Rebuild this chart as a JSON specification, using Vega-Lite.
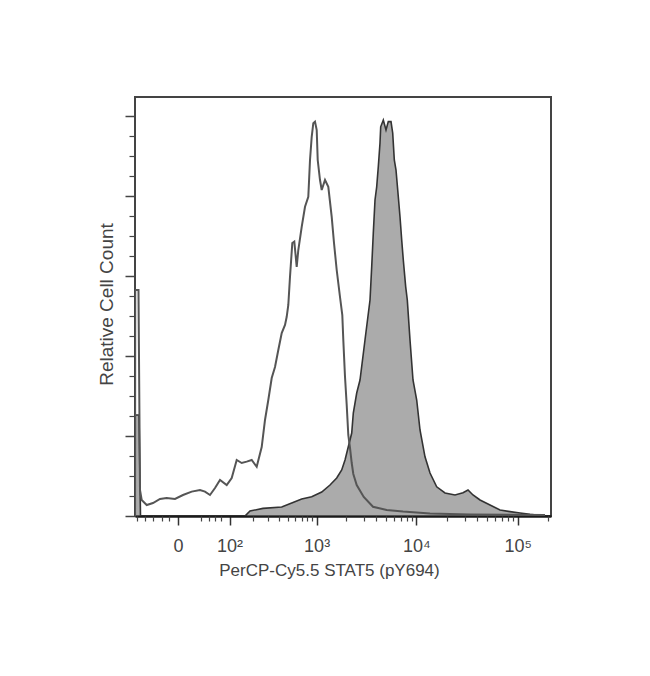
{
  "$schema": "https://vega.github.io/schema/vega-lite/v6.json",
  "width": 416,
  "height": 419,
  "autosize": {"type": "none"},
  "padding": {"left": 135, "top": 97, "right": 99, "bottom": 160},
  "background": "white",
  "config": {"view": {"stroke": "#444444", "strokeWidth": 2}, "font": "Liberation Sans"},
  "datasets": {
    "stained": [
      {"intensity": -73.8, "count": 25.25},
      {"intensity": -64.0, "count": 25.25},
      {"intensity": -60.4, "count": 0},
      {"intensity": 160.8, "count": 0},
      {"intensity": 185.5, "count": 1.25},
      {"intensity": 264.6, "count": 1.9},
      {"intensity": 428.4, "count": 2.25},
      {"intensity": 548.9, "count": 3.25},
      {"intensity": 700.2, "count": 4.25},
      {"intensity": 890, "count": 4.8},
      {"intensity": 1128, "count": 6},
      {"intensity": 1371, "count": 7.75},
      {"intensity": 1604, "count": 9.5},
      {"intensity": 1802, "count": 11.5},
      {"intensity": 1946, "count": 14},
      {"intensity": 2100, "count": 17.3},
      {"intensity": 2273, "count": 20.75},
      {"intensity": 2358, "count": 25.75},
      {"intensity": 2551, "count": 30.75},
      {"intensity": 2753, "count": 34},
      {"intensity": 3088, "count": 44},
      {"intensity": 3466, "count": 54},
      {"intensity": 3603, "count": 62.3},
      {"intensity": 3738, "count": 70.75},
      {"intensity": 3887, "count": 79},
      {"intensity": 4041, "count": 82.3},
      {"intensity": 4192, "count": 87.3},
      {"intensity": 4359, "count": 93.25},
      {"intensity": 4430, "count": 97.3},
      {"intensity": 4702, "count": 99},
      {"intensity": 5002, "count": 96.5},
      {"intensity": 5272, "count": 98.6},
      {"intensity": 5608, "count": 98.6},
      {"intensity": 5830, "count": 95.75},
      {"intensity": 6048, "count": 89},
      {"intensity": 6287, "count": 86.5},
      {"intensity": 6626, "count": 79.8},
      {"intensity": 6888, "count": 74.8},
      {"intensity": 7161, "count": 69},
      {"intensity": 7428, "count": 64},
      {"intensity": 7846, "count": 57.3},
      {"intensity": 8138, "count": 54},
      {"intensity": 8655, "count": 44},
      {"intensity": 9267, "count": 34},
      {"intensity": 10084, "count": 29},
      {"intensity": 10871, "count": 21.5},
      {"intensity": 12182, "count": 14.8},
      {"intensity": 13653, "count": 10.75},
      {"intensity": 15899, "count": 7.3},
      {"intensity": 19206, "count": 5.75},
      {"intensity": 24115, "count": 5.25},
      {"intensity": 28922, "count": 5.8},
      {"intensity": 32400, "count": 6.5},
      {"intensity": 36300, "count": 5.25},
      {"intensity": 42560, "count": 4},
      {"intensity": 53410, "count": 2.75},
      {"intensity": 67050, "count": 1.5},
      {"intensity": 84140, "count": 1.1},
      {"intensity": 105600, "count": 0.75},
      {"intensity": 132440, "count": 0.4},
      {"intensity": 186200, "count": 0}
    ],
    "control": [
      {"intensity": -74.3, "count": 0},
      {"intensity": -73.8, "count": 56.5},
      {"intensity": -65.3, "count": 56.5},
      {"intensity": -61.6, "count": 6.5},
      {"intensity": -57.6, "count": 4},
      {"intensity": -46.5, "count": 2.75},
      {"intensity": -34.4, "count": 3.25},
      {"intensity": -22.7, "count": 4.25},
      {"intensity": -13.2, "count": 4.5},
      {"intensity": -3.2, "count": 4.25},
      {"intensity": 5.4, "count": 5.25},
      {"intensity": 16.4, "count": 6.1},
      {"intensity": 29.1, "count": 6.5},
      {"intensity": 38, "count": 6.1},
      {"intensity": 48, "count": 5.25},
      {"intensity": 59.2, "count": 7},
      {"intensity": 71.7, "count": 9},
      {"intensity": 90.9, "count": 7.75},
      {"intensity": 107.2, "count": 9.5},
      {"intensity": 125.5, "count": 14},
      {"intensity": 146, "count": 13.25},
      {"intensity": 168.9, "count": 13.6},
      {"intensity": 194.6, "count": 14},
      {"intensity": 223.4, "count": 12.3},
      {"intensity": 255.6, "count": 17.25},
      {"intensity": 279, "count": 24},
      {"intensity": 304.2, "count": 29},
      {"intensity": 332.3, "count": 34.5},
      {"intensity": 361.6, "count": 37.25},
      {"intensity": 393.2, "count": 41.5},
      {"intensity": 428.4, "count": 45.75},
      {"intensity": 465.2, "count": 47.75},
      {"intensity": 485.2, "count": 49.8},
      {"intensity": 504.8, "count": 52.75},
      {"intensity": 526.4, "count": 59.8},
      {"intensity": 557.1, "count": 68.25},
      {"intensity": 585, "count": 68.6},
      {"intensity": 620.2, "count": 62.3},
      {"intensity": 644.8, "count": 66.5},
      {"intensity": 700.2, "count": 72.3},
      {"intensity": 758.2, "count": 77.3},
      {"intensity": 820.6, "count": 79.8},
      {"intensity": 854.6, "count": 89},
      {"intensity": 890, "count": 94.8},
      {"intensity": 924.6, "count": 98.2},
      {"intensity": 962.7, "count": 98.6},
      {"intensity": 1002.4, "count": 96.5},
      {"intensity": 1026.5, "count": 89},
      {"intensity": 1083.7, "count": 84},
      {"intensity": 1128.2, "count": 81.5},
      {"intensity": 1219.4, "count": 84},
      {"intensity": 1317.7, "count": 82.3},
      {"intensity": 1427, "count": 74.8},
      {"intensity": 1505.8, "count": 68.25},
      {"intensity": 1603.8, "count": 61.5},
      {"intensity": 1732.1, "count": 54.75},
      {"intensity": 1827.3, "count": 50.25},
      {"intensity": 1870.3, "count": 44},
      {"intensity": 1945.5, "count": 34.8},
      {"intensity": 2023.9, "count": 27.75},
      {"intensity": 2100.3, "count": 20.25},
      {"intensity": 2184.8, "count": 17},
      {"intensity": 2272.5, "count": 13.25},
      {"intensity": 2358.2, "count": 10.5},
      {"intensity": 2550.8, "count": 7.75},
      {"intensity": 3000, "count": 4.75},
      {"intensity": 3712, "count": 2.3},
      {"intensity": 5082, "count": 1.5},
      {"intensity": 7377, "count": 1.1},
      {"intensity": 13653, "count": 0.6},
      {"intensity": 33910, "count": 0.4},
      {"intensity": 186200, "count": 0.25}
    ]
  },
  "layer": [
    {
      "data": {"name": "stained"},
      "mark": {"type": "area", "color": "#ababab", "stroke": "#333333", "strokeWidth": 1.6, "clip": true},
      "encoding": {
        "x": {
          "field": "intensity", "type": "quantitative",
          "scale": {"type": "symlog", "constant": 45, "domain": [-74.4, 213260], "nice": false, "zero": false},
          "axis": {
            "orient": "bottom",
            "values": [0, 100, 1000, 10000, 100000],
            "labelExpr": "datum.value == 0 ? '0' : datum.value == 100 ? '10²' : datum.value == 1000 ? '10³' : datum.value == 10000 ? '10⁴' : '10⁵'",
            "tickSize": 9, "tickWidth": 1.5, "tickColor": "#333333",
            "domainColor": "#1a1a1a", "domainWidth": 2.5,
            "labelFontSize": 18, "labelColor": "#444444", "labelPadding": 12, "labelFont": "Liberation Sans",
            "labelFlush": false, "labelOverlap": false, "grid": false,
            "title": "PerCP-Cy5.5 STAT5 (pY694)", "titleFontSize": 17, "titleFontWeight": "normal",
            "titleColor": "#444444", "titleFont": "Liberation Sans",
            "titleX": 194, "titleY": 59, "titleAlign": "center", "titleBaseline": "alphabetic"
          }
        },
        "y": {
          "field": "count", "type": "quantitative",
          "scale": {"domain": [0, 104.75], "nice": false, "zero": true},
          "axis": {
            "orient": "left",
            "values": [0, 20, 40, 60, 80, 100],
            "tickSize": 10, "tickWidth": 1.5, "tickColor": "#444444",
            "labels": false, "domain": false, "grid": false,
            "title": "Relative Cell Count", "titleFontSize": 19, "titleFontWeight": "normal",
            "titleColor": "#444444", "titleFont": "Liberation Sans",
            "titleX": -23, "titleY": 207, "titleAlign": "center", "titleBaseline": "alphabetic", "titleAngle": 270
          }
        }
      }
    },
    {
      "data": {"name": "control"},
      "mark": {"type": "line", "color": "#555555", "strokeWidth": 2, "clip": true},
      "encoding": {
        "x": {
          "field": "intensity", "type": "quantitative",
          "scale": {"type": "symlog", "constant": 45, "domain": [-74.4, 213260], "nice": false, "zero": false},
          "axis": {
            "orient": "bottom",
            "values": [-70, -50, -35, -20, -10, 30, 45, 60, 75, 200, 300, 400, 500, 600, 700, 800, 900, 2000, 3000, 4000, 5000, 6000, 7000, 8000, 9000, 20000, 30000, 40000, 50000, 60000, 70000, 80000, 90000, 200000],
            "tickSize": 5, "tickWidth": 1.2, "tickColor": "#444444",
            "labels": false, "domain": false, "grid": false, "title": null
          }
        },
        "y": {
          "field": "count", "type": "quantitative",
          "scale": {"domain": [0, 104.75], "nice": false, "zero": true},
          "axis": {
            "orient": "left",
            "values": [5, 10, 15, 25, 30, 35, 45, 50, 55, 65, 70, 75, 85, 90, 95],
            "tickSize": 6, "tickWidth": 1.2, "tickColor": "#444444",
            "labels": false, "domain": false, "grid": false, "title": null
          }
        }
      }
    }
  ],
  "resolve": {"axis": {"x": "independent", "y": "independent"}}
}
